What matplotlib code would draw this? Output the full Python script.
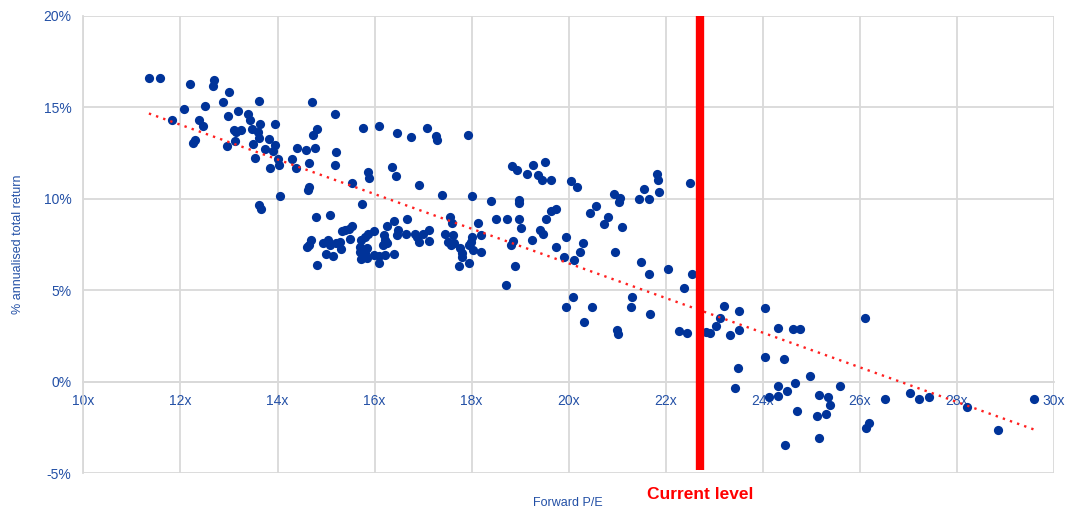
import numpy as np
import matplotlib.pyplot as plt
from matplotlib.ticker import FuncFormatter

plt.rcParams['font.family'] = ['Liberation Sans', 'DejaVu Sans']

# forward P/E (x) and annualised total return in % (y)
pe = [11.35, 11.57, 12.20, 12.69, 12.67, 13.01, 13.62, 12.88, 12.07, 12.51, 13.19, 12.98,
      13.40, 13.43, 13.95, 13.64, 11.83, 12.38, 12.47, 13.11, 13.24, 13.14, 13.48, 13.59,
      13.62, 13.82, 13.50, 13.12, 12.95, 12.30, 12.25, 13.95, 13.74, 13.90, 14.02, 14.04,
      13.85, 13.54, 14.30, 14.38, 14.40, 14.05, 13.62, 13.67,
      14.71, 15.18, 14.81, 14.74, 15.76, 16.10, 16.46, 16.76, 17.09, 17.27, 17.28, 17.93,
      14.58, 14.77, 15.20, 14.65, 15.18, 15.86, 15.89, 16.36, 16.44, 15.54, 16.91, 14.65,
      14.63, 17.38, 18.01, 18.40, 15.75, 14.79, 15.08,
      18.50, 17.56, 17.59, 18.14, 18.20, 16.67, 16.39, 16.26, 15.99, 15.86, 15.80, 15.73,
      15.54, 15.48, 15.32, 15.40, 15.49, 14.70, 14.65, 14.60, 14.93, 15.05, 15.08, 15.20,
      15.29, 14.99, 15.15, 15.31, 14.81, 15.70, 15.77, 15.84, 15.70, 15.80, 15.73, 15.85,
      15.99, 16.10, 16.21, 16.09, 16.19, 16.21, 16.18, 16.25, 16.41, 16.49, 16.47, 16.65,
      16.83, 16.88, 16.91, 17.00, 17.12, 17.13, 17.46, 17.62, 17.52, 17.57, 17.64, 17.76,
      17.81, 17.81, 17.74, 17.95, 18.00, 17.98, 17.95, 18.03, 18.20,
      18.84, 18.93, 19.27, 19.51, 19.14, 19.37, 19.44, 19.63, 20.05, 20.18, 18.97, 18.98,
      19.63, 19.74, 20.44, 20.57, 20.94, 21.05, 21.04, 21.44, 21.56, 21.65, 21.81, 21.83,
      21.86, 22.50, 18.72, 18.98, 19.01, 19.54, 19.41, 19.46, 19.24, 18.86, 18.82, 19.94,
      19.74, 20.29, 20.23, 19.91, 20.10, 20.81, 20.73, 21.10, 20.96, 18.90, 18.71, 21.49,
      21.65, 22.05, 22.55, 22.38, 20.08, 19.95, 20.47, 20.31, 21.31, 21.28, 21.67, 20.99,
      21.01, 22.27, 22.43,
      22.82, 22.91, 23.20, 23.11, 23.03, 23.32, 23.51, 23.51, 23.49, 23.43, 24.04, 24.04,
      24.32, 24.43, 24.63, 24.76, 26.10, 24.32, 24.12, 24.32, 24.50, 24.66, 24.97, 24.71,
      25.16, 25.35, 25.39, 25.30, 25.11, 25.60, 25.16, 24.45, 26.18, 26.12, 26.52, 27.04,
      27.22, 27.43, 28.21, 28.85, 29.58]

ret = [16.60, 16.60, 16.26, 16.48, 16.15, 15.84, 15.35, 15.28, 14.93, 15.07, 14.78, 14.51,
       14.62, 14.33, 14.11, 14.11, 14.28, 14.29, 13.97, 13.78, 13.75, 13.65, 13.82, 13.65,
       13.33, 13.26, 13.02, 13.16, 12.91, 13.20, 13.05, 12.94, 12.73, 12.62, 12.20, 11.87,
       11.69, 12.23, 12.16, 11.69, 12.76, 10.16, 9.65, 9.43,
       15.29, 14.66, 13.84, 13.47, 13.89, 13.97, 13.62, 13.40, 13.89, 13.42, 13.20, 13.47,
       12.64, 12.78, 12.58, 11.96, 11.87, 11.47, 11.13, 11.74, 11.25, 10.84, 10.76, 10.65,
       10.47, 10.21, 10.14, 9.87, 9.72, 8.98, 9.10,
       8.89, 8.98, 8.65, 8.65, 8.01, 8.89, 8.79, 8.50, 8.25, 8.10, 7.89, 7.74,
       8.50, 8.34, 8.23, 8.29, 7.78, 7.74, 7.47, 7.36, 7.59, 7.74, 7.50, 7.56,
       7.65, 6.97, 6.85, 7.23, 6.37, 7.37, 7.19, 7.29, 7.10, 7.01, 6.70, 6.79,
       6.92, 6.87, 6.92, 6.47, 8.01, 7.74, 7.47, 7.56, 6.96, 8.32, 8.01, 8.10,
       8.10, 7.89, 7.65, 8.07, 8.29, 7.70, 8.10, 8.01, 7.65, 7.47, 7.56, 7.29,
       7.01, 6.83, 6.32, 6.47, 7.92, 7.65, 7.47, 7.19, 7.10,
       11.78, 11.60, 11.82, 12.02, 11.33, 11.29, 11.05, 11.05, 10.98, 10.63, 9.92, 9.78,
       9.32, 9.43, 9.23, 9.60, 10.25, 10.02, 9.83, 9.99, 10.56, 9.98, 11.38, 11.05,
       10.36, 10.84, 8.90, 8.90, 8.41, 8.89, 8.32, 8.05, 7.72, 7.70, 7.47, 7.89,
       7.37, 7.59, 7.08, 6.83, 6.68, 9.01, 8.60, 8.47, 7.08, 6.32, 5.28, 6.52,
       5.90, 6.14, 5.88, 5.13, 4.64, 4.10, 4.10, 3.26, 4.64, 4.10, 3.68, 2.82,
       2.59, 2.79, 2.64,
       2.73, 2.64, 4.15, 3.50, 3.06, 2.55, 3.88, 2.82, 0.76, -0.36, 4.03, 1.37,
       2.92, 1.24, 2.86, 2.86, 3.46, -0.23, -0.82, -0.78, -0.49, -0.05, 0.33, -1.62,
       -0.73, -0.85, -1.27, -1.76, -1.87, -0.23, -3.07, -3.47, -2.24, -2.51, -0.96, -0.63,
       -0.96, -0.84, -1.40, -2.65, -0.96]

current_pe = 22.7

blue = '#003399'
label_blue = '#2350a6'
grid_grey = '#d9d9d9'

fig = plt.figure(figsize=(10.69, 5.11), dpi=100)
ax = fig.add_axes([0.078, 0.074, 0.908, 0.895])

ax.scatter(pe, ret, s=44, color=blue, linewidths=0, zorder=3)

# linear trend through the points
coef = np.polyfit(pe, ret, 1)
xs = np.array([min(pe), max(pe)])
ax.plot(xs, np.polyval(coef, xs), linestyle=(0, (1, 2.2)), color='#ff2020', lw=1.7, zorder=4)

# current valuation marker
ax.plot([current_pe, current_pe], [-4.85, 20], color='#ff0000', lw=6, solid_capstyle='butt', zorder=5)

ax.set_xlim(10, 30)
ax.set_ylim(-5, 20)
ax.set_xticks(range(10, 31, 2))
ax.set_yticks(range(-5, 21, 5))
ax.xaxis.set_major_formatter(FuncFormatter(lambda v, p: '%dx' % v))
ax.yaxis.set_major_formatter(FuncFormatter(lambda v, p: '%d%%' % v))
ax.grid(color=grid_grey, lw=1.3)
ax.set_axisbelow(True)

ax.spines['top'].set_visible(False)
ax.spines['right'].set_visible(False)
ax.spines['left'].set_color(grid_grey)
ax.spines['left'].set_linewidth(1.3)
ax.spines['bottom'].set_position(('data', 0))
ax.spines['bottom'].set_color(grid_grey)
ax.spines['bottom'].set_linewidth(1.3)

ax.tick_params(length=0, labelcolor=label_blue, labelsize=10)
ax.tick_params(axis='y', pad=8.5)
ax.tick_params(axis='x', pad=9)

fig.text(568 / 1069, 1 - 503 / 511, 'Forward P/E', color=label_blue, fontsize=9,
         ha='center', va='center')
fig.text(18 / 1069, 1 - 244 / 511, '% annualised total return', color=label_blue, fontsize=9,
         rotation=90, ha='center', va='center')
ax.annotate('Current level', xy=(current_pe, 0), xycoords=('data', 'axes fraction'),
            xytext=(0, -15), textcoords='offset points', ha='center', va='center',
            color='#ff0000', fontsize=12.5, fontweight='bold')

fig.savefig('out.png', dpi=100)
